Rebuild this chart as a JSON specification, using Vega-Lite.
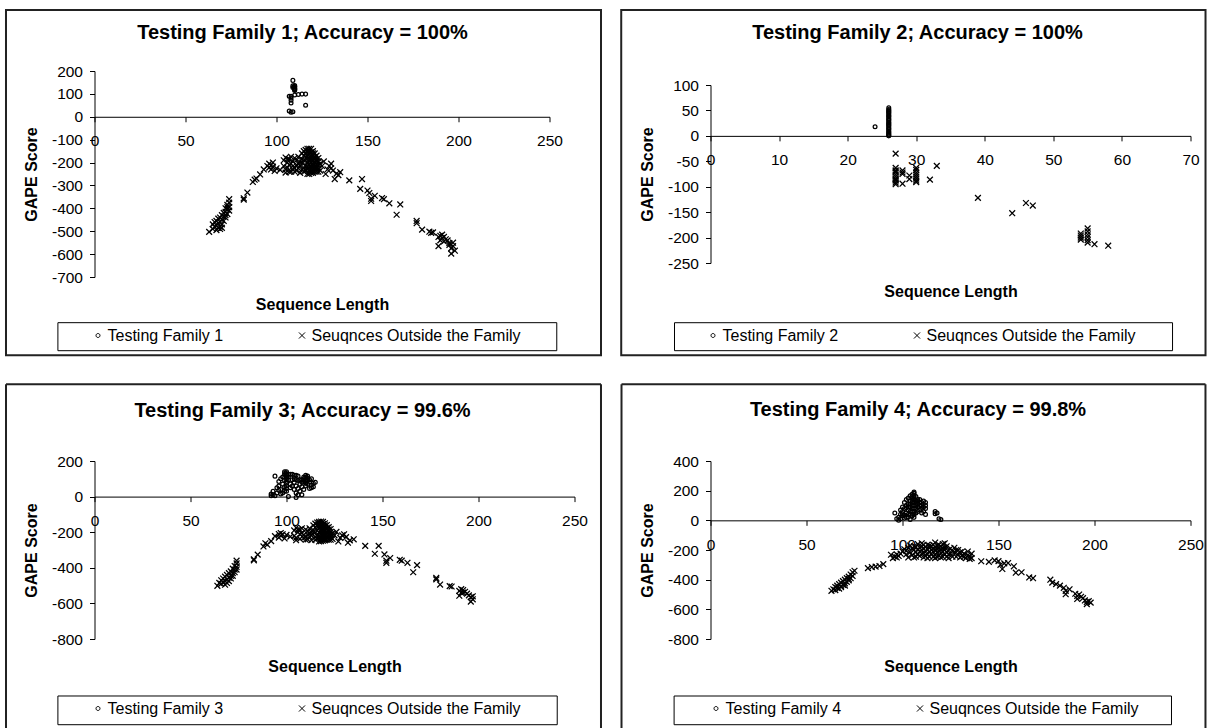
{
"$schema": "https://vega.github.io/schema/vega-lite/v6.json",
"background": "white",
"padding": {"left": 4.5, "top": 8, "right": 0, "bottom": 0},
"config": {
  "font": "Liberation Sans",
  "view": {"stroke": null},
  "axis": {"grid": false, "domainColor": "black", "domainWidth": 1, "tickColor": "black", "tickWidth": 1, "tickSize": 5, "labelColor": "black", "labelFont": "Liberation Sans", "labelFontSize": 15.5, "titleColor": "black", "titleFont": "Liberation Sans", "titleFontSize": 16, "titleFontWeight": "bold", "labelFlush": false, "labelOverlap": false, "tickCount": 30, "labelExpr": "'' + datum.value"},
  "axisX": {"labelPadding": 12, "titleBaseline": "alphabetic"},
  "axisY": {"labelPadding": 7, "titlePadding": 12},
  "title": {"font": "Liberation Sans", "fontSize": 20, "fontWeight": "bold", "color": "black", "frame": "group", "anchor": "middle", "baseline": "alphabetic"},
  "legend": {"labelFont": "Liberation Sans", "labelFontSize": 16, "labelColor": "black", "labelLimit": 500, "symbolSize": 22, "symbolStrokeWidth": 1, "symbolStrokeColor": "black", "labelOffset": 1.5, "columnPadding": 70, "padding": 0, "orient": "none", "direction": "horizontal"}
},
"datasets": {
"d1": [
{"x":109,"y":159,"g":"a"},{"x":110,"y":136,"g":"a"},{"x":110,"y":130,"g":"a"},{"x":110,"y":125,"g":"a"},{"x":110,"y":120,"g":"a"},{"x":110,"y":115,"g":"a"},{"x":109,"y":128,"g":"a"},{"x":107,"y":90,"g":"a"},{"x":108,"y":90,"g":"a"},{"x":112,"y":97,"g":"a"},{"x":114,"y":99,"g":"a"},{"x":116,"y":99,"g":"a"},{"x":108,"y":72,"g":"a"},{"x":108,"y":60,"g":"a"},{"x":116,"y":50,"g":"a"},{"x":107,"y":25,"g":"a"},{"x":108,"y":20,"g":"a"},{"x":109,"y":22,"g":"a"},{"x":110,"y":95,"g":"a"},{"x":108,"y":82,"g":"a"},{"x":110,"y":118,"g":"a"},{"x":110,"y":122,"g":"a"},{"x":110,"y":132,"g":"a"},{"x":109,"y":135,"g":"a"},
{"x":63,"y":-503,"g":"b"},{"x":65,"y":-490,"g":"b"},{"x":65,"y":-470,"g":"b"},{"x":66,"y":-480,"g":"b"},{"x":66,"y":-460,"g":"b"},{"x":67,"y":-495,"g":"b"},{"x":67,"y":-475,"g":"b"},{"x":67,"y":-455,"g":"b"},{"x":68,"y":-485,"g":"b"},{"x":68,"y":-465,"g":"b"},{"x":68,"y":-445,"g":"b"},{"x":69,"y":-480,"g":"b"},{"x":69,"y":-460,"g":"b"},{"x":69,"y":-440,"g":"b"},{"x":70,"y":-470,"g":"b"},{"x":70,"y":-450,"g":"b"},{"x":70,"y":-430,"g":"b"},{"x":71,"y":-455,"g":"b"},{"x":71,"y":-435,"g":"b"},{"x":71,"y":-420,"g":"b"},{"x":72,"y":-440,"g":"b"},{"x":72,"y":-415,"g":"b"},{"x":72,"y":-400,"g":"b"},{"x":73,"y":-425,"g":"b"},{"x":73,"y":-405,"g":"b"},{"x":73,"y":-385,"g":"b"},{"x":74,"y":-410,"g":"b"},{"x":74,"y":-395,"g":"b"},{"x":74,"y":-375,"g":"b"},{"x":74,"y":-360,"g":"b"},{"x":69,"y":-490,"g":"b"},{"x":70,"y":-485,"g":"b"},{"x":72,"y":-430,"g":"b"},{"x":73,"y":-395,"g":"b"},
{"x":82,"y":-356,"g":"b"},{"x":82,"y":-362,"g":"b"},{"x":84,"y":-331,"g":"b"},{"x":87,"y":-285,"g":"b"},{"x":88,"y":-275,"g":"b"},{"x":89,"y":-270,"g":"b"},{"x":91,"y":-252,"g":"b"},{"x":93,"y":-230,"g":"b"},{"x":95,"y":-215,"g":"b"},{"x":96,"y":-205,"g":"b"},{"x":96,"y":-222,"g":"b"},{"x":97,"y":-212,"g":"b"},{"x":97,"y":-230,"g":"b"},{"x":98,"y":-200,"g":"b"},{"x":98,"y":-218,"g":"b"},{"x":99,"y":-237,"g":"b"},{"x":100,"y":-225,"g":"b"},{"x":102,"y":-232,"g":"b"},
{"x":104,"y":-190,"g":"b"},{"x":104,"y":-215,"g":"b"},{"x":105,"y":-178,"g":"b"},{"x":105,"y":-244,"g":"b"},{"x":105,"y":-230,"g":"b"},{"x":106,"y":-200,"g":"b"},{"x":106,"y":-222,"g":"b"},{"x":107,"y":-185,"g":"b"},{"x":107,"y":-240,"g":"b"},{"x":108,"y":-205,"g":"b"},{"x":108,"y":-175,"g":"b"},{"x":109,"y":-215,"g":"b"},{"x":109,"y":-195,"g":"b"},{"x":110,"y":-180,"g":"b"},{"x":110,"y":-225,"g":"b"},{"x":111,"y":-190,"g":"b"},{"x":111,"y":-235,"g":"b"},{"x":112,"y":-205,"g":"b"},{"x":112,"y":-175,"g":"b"},{"x":113,"y":-215,"g":"b"},{"x":113,"y":-245,"g":"b"},{"x":114,"y":-185,"g":"b"},{"x":114,"y":-200,"g":"b"},{"x":115,"y":-170,"g":"b"},{"x":115,"y":-225,"g":"b"},{"x":115,"y":-240,"g":"b"},{"x":116,"y":-160,"g":"b"},{"x":116,"y":-190,"g":"b"},{"x":116,"y":-215,"g":"b"},{"x":117,"y":-150,"g":"b"},{"x":117,"y":-175,"g":"b"},{"x":117,"y":-200,"g":"b"},{"x":117,"y":-230,"g":"b"},{"x":117,"y":-250,"g":"b"},{"x":118,"y":-140,"g":"b"},{"x":118,"y":-165,"g":"b"},{"x":118,"y":-185,"g":"b"},{"x":118,"y":-210,"g":"b"},{"x":118,"y":-235,"g":"b"},{"x":119,"y":-155,"g":"b"},{"x":119,"y":-180,"g":"b"},{"x":119,"y":-200,"g":"b"},{"x":119,"y":-225,"g":"b"},{"x":119,"y":-245,"g":"b"},{"x":120,"y":-160,"g":"b"},{"x":120,"y":-190,"g":"b"},{"x":120,"y":-215,"g":"b"},{"x":120,"y":-235,"g":"b"},{"x":121,"y":-175,"g":"b"},{"x":121,"y":-200,"g":"b"},{"x":121,"y":-225,"g":"b"},{"x":122,"y":-185,"g":"b"},{"x":122,"y":-210,"g":"b"},{"x":122,"y":-240,"g":"b"},{"x":123,"y":-195,"g":"b"},{"x":123,"y":-225,"g":"b"},{"x":124,"y":-205,"g":"b"},{"x":124,"y":-235,"g":"b"},{"x":125,"y":-215,"g":"b"},{"x":126,"y":-195,"g":"b"},{"x":127,"y":-250,"g":"b"},{"x":128,"y":-230,"g":"b"},{"x":129,"y":-215,"g":"b"},{"x":130,"y":-225,"g":"b"},{"x":130,"y":-205,"g":"b"},{"x":131,"y":-235,"g":"b"},{"x":132,"y":-272,"g":"b"},{"x":133,"y":-248,"g":"b"},{"x":134,"y":-255,"g":"b"},{"x":135,"y":-242,"g":"b"},
{"x":114,"y":-160,"g":"b"},{"x":115,"y":-150,"g":"b"},{"x":116,"y":-145,"g":"b"},{"x":116,"y":-235,"g":"b"},{"x":117,"y":-140,"g":"b"},{"x":117,"y":-165,"g":"b"},{"x":117,"y":-215,"g":"b"},{"x":118,"y":-150,"g":"b"},{"x":118,"y":-195,"g":"b"},{"x":118,"y":-250,"g":"b"},{"x":119,"y":-140,"g":"b"},{"x":119,"y":-170,"g":"b"},{"x":119,"y":-190,"g":"b"},{"x":119,"y":-215,"g":"b"},{"x":119,"y":-235,"g":"b"},{"x":120,"y":-150,"g":"b"},{"x":120,"y":-170,"g":"b"},{"x":120,"y":-205,"g":"b"},{"x":120,"y":-245,"g":"b"},{"x":121,"y":-160,"g":"b"},{"x":121,"y":-185,"g":"b"},{"x":121,"y":-215,"g":"b"},{"x":121,"y":-240,"g":"b"},{"x":122,"y":-170,"g":"b"},{"x":122,"y":-195,"g":"b"},{"x":122,"y":-225,"g":"b"},{"x":123,"y":-180,"g":"b"},{"x":123,"y":-210,"g":"b"},{"x":123,"y":-240,"g":"b"},{"x":116,"y":-230,"g":"b"},{"x":115,"y":-190,"g":"b"},{"x":114,"y":-230,"g":"b"},{"x":113,"y":-200,"g":"b"},{"x":112,"y":-225,"g":"b"},{"x":110,"y":-240,"g":"b"},{"x":111,"y":-210,"g":"b"},{"x":109,"y":-230,"g":"b"},{"x":108,"y":-240,"g":"b"},{"x":106,"y":-185,"g":"b"},{"x":107,"y":-210,"g":"b"},
{"x":140,"y":-278,"g":"b"},{"x":147,"y":-272,"g":"b"},{"x":146,"y":-315,"g":"b"},{"x":150,"y":-322,"g":"b"},{"x":151,"y":-333,"g":"b"},{"x":152,"y":-368,"g":"b"},{"x":152,"y":-358,"g":"b"},{"x":154,"y":-345,"g":"b"},{"x":158,"y":-355,"g":"b"},{"x":159,"y":-360,"g":"b"},{"x":162,"y":-378,"g":"b"},{"x":166,"y":-428,"g":"b"},{"x":168,"y":-383,"g":"b"},
{"x":177,"y":-455,"g":"b"},{"x":177,"y":-465,"g":"b"},{"x":180,"y":-493,"g":"b"},{"x":184,"y":-502,"g":"b"},{"x":185,"y":-507,"g":"b"},{"x":186,"y":-505,"g":"b"},{"x":189,"y":-525,"g":"b"},{"x":189,"y":-565,"g":"b"},{"x":190,"y":-520,"g":"b"},{"x":190,"y":-540,"g":"b"},{"x":191,"y":-515,"g":"b"},{"x":191,"y":-530,"g":"b"},{"x":192,"y":-545,"g":"b"},{"x":192,"y":-525,"g":"b"},{"x":193,"y":-535,"g":"b"},{"x":194,"y":-540,"g":"b"},{"x":195,"y":-552,"g":"b"},{"x":195,"y":-560,"g":"b"},{"x":196,"y":-575,"g":"b"},{"x":196,"y":-598,"g":"b"},{"x":197,"y":-565,"g":"b"},{"x":198,"y":-585,"g":"b"},{"x":197,"y":-550,"g":"b"}
],
"d2": [
{"x":24,"y":18,"g":"a"},{"x":26,"y":0,"g":"a"},{"x":26,"y":1,"g":"a"},{"x":26,"y":3,"g":"a"},{"x":26,"y":5,"g":"a"},{"x":26,"y":7,"g":"a"},{"x":26,"y":9,"g":"a"},{"x":26,"y":12,"g":"a"},{"x":26,"y":14,"g":"a"},{"x":26,"y":16,"g":"a"},{"x":26,"y":19,"g":"a"},{"x":26,"y":21,"g":"a"},{"x":26,"y":23,"g":"a"},{"x":26,"y":25,"g":"a"},{"x":26,"y":27,"g":"a"},{"x":26,"y":30,"g":"a"},{"x":26,"y":32,"g":"a"},{"x":26,"y":34,"g":"a"},{"x":26,"y":37,"g":"a"},{"x":26,"y":39,"g":"a"},{"x":26,"y":41,"g":"a"},{"x":26,"y":44,"g":"a"},{"x":26,"y":46,"g":"a"},{"x":26,"y":48,"g":"a"},{"x":26,"y":50,"g":"a"},{"x":26,"y":52,"g":"a"},{"x":26,"y":55,"g":"a"},
{"x":27,"y":-35,"g":"b"},{"x":27,"y":-63,"g":"b"},{"x":27,"y":-68,"g":"b"},{"x":27,"y":-72,"g":"b"},{"x":27,"y":-76,"g":"b"},{"x":27,"y":-80,"g":"b"},{"x":27,"y":-84,"g":"b"},{"x":27,"y":-88,"g":"b"},{"x":27,"y":-92,"g":"b"},{"x":27,"y":-95,"g":"b"},{"x":27,"y":-70,"g":"b"},{"x":27,"y":-86,"g":"b"},{"x":28,"y":-68,"g":"b"},{"x":28,"y":-72,"g":"b"},{"x":28,"y":-75,"g":"b"},{"x":28,"y":-94,"g":"b"},{"x":29,"y":-78,"g":"b"},{"x":29,"y":-85,"g":"b"},{"x":30,"y":-63,"g":"b"},{"x":30,"y":-67,"g":"b"},{"x":30,"y":-72,"g":"b"},{"x":30,"y":-76,"g":"b"},{"x":30,"y":-80,"g":"b"},{"x":30,"y":-84,"g":"b"},{"x":30,"y":-88,"g":"b"},{"x":30,"y":-91,"g":"b"},{"x":32,"y":-86,"g":"b"},{"x":33,"y":-59,"g":"b"},{"x":39,"y":-122,"g":"b"},{"x":44,"y":-152,"g":"b"},{"x":46,"y":-132,"g":"b"},{"x":47,"y":-137,"g":"b"},{"x":54,"y":-192,"g":"b"},{"x":54,"y":-196,"g":"b"},{"x":54,"y":-200,"g":"b"},{"x":54,"y":-204,"g":"b"},{"x":55,"y":-182,"g":"b"},{"x":55,"y":-188,"g":"b"},{"x":55,"y":-194,"g":"b"},{"x":55,"y":-199,"g":"b"},{"x":55,"y":-205,"g":"b"},{"x":55,"y":-210,"g":"b"},{"x":56,"y":-213,"g":"b"},{"x":58,"y":-216,"g":"b"}
],
"d3": [
{"x":92,"y":5,"g":"a"},{"x":92,"y":15,"g":"a"},{"x":93,"y":30,"g":"a"},{"x":94,"y":115,"g":"a"},{"x":95,"y":50,"g":"a"},{"x":95,"y":20,"g":"a"},{"x":96,"y":60,"g":"a"},{"x":96,"y":85,"g":"a"},{"x":97,"y":40,"g":"a"},{"x":97,"y":100,"g":"a"},{"x":98,"y":70,"g":"a"},{"x":98,"y":110,"g":"a"},{"x":99,"y":130,"g":"a"},{"x":99,"y":90,"g":"a"},{"x":99,"y":55,"g":"a"},{"x":100,"y":140,"g":"a"},{"x":100,"y":120,"g":"a"},{"x":100,"y":100,"g":"a"},{"x":100,"y":75,"g":"a"},{"x":100,"y":60,"g":"a"},{"x":100,"y":30,"g":"a"},{"x":101,"y":0,"g":"a"},{"x":101,"y":110,"g":"a"},{"x":102,"y":125,"g":"a"},{"x":103,"y":125,"g":"a"},{"x":104,"y":120,"g":"a"},{"x":104,"y":40,"g":"a"},{"x":104,"y":80,"g":"a"},{"x":105,"y":20,"g":"a"},{"x":105,"y":-5,"g":"a"},{"x":105,"y":60,"g":"a"},{"x":106,"y":90,"g":"a"},{"x":106,"y":45,"g":"a"},{"x":107,"y":30,"g":"a"},{"x":107,"y":70,"g":"a"},{"x":108,"y":80,"g":"a"},{"x":108,"y":55,"g":"a"},{"x":109,"y":100,"g":"a"},{"x":109,"y":40,"g":"a"},{"x":110,"y":110,"g":"a"},{"x":110,"y":85,"g":"a"},{"x":110,"y":60,"g":"a"},{"x":111,"y":95,"g":"a"},{"x":111,"y":70,"g":"a"},{"x":112,"y":45,"g":"a"},{"x":112,"y":80,"g":"a"},{"x":113,"y":50,"g":"a"},{"x":113,"y":65,"g":"a"},{"x":114,"y":75,"g":"a"},{"x":114,"y":55,"g":"a"},{"x":103,"y":95,"g":"a"},{"x":98,"y":20,"g":"a"},{"x":102,"y":70,"g":"a"},{"x":108,"y":10,"g":"a"},{"x":106,"y":10,"g":"a"},{"x":115,"y":80,"g":"a"},
{"x":99,"y":120,"g":"a"},{"x":100,"y":130,"g":"a"},{"x":100,"y":110,"g":"a"},{"x":100,"y":85,"g":"a"},{"x":99,"y":140,"g":"a"},{"x":101,"y":125,"g":"a"},{"x":101,"y":95,"g":"a"},{"x":109,"y":110,"g":"a"},{"x":110,"y":95,"g":"a"},{"x":110,"y":120,"g":"a"},{"x":111,"y":105,"g":"a"},{"x":111,"y":115,"g":"a"},{"x":109,"y":85,"g":"a"},{"x":108,"y":95,"g":"a"},{"x":110,"y":75,"g":"a"},{"x":112,"y":95,"g":"a"},{"x":113,"y":100,"g":"a"},{"x":107,"y":95,"g":"a"},{"x":104,"y":100,"g":"a"},{"x":105,"y":95,"g":"a"},{"x":106,"y":115,"g":"a"},{"x":105,"y":120,"g":"a"},{"x":100,"y":45,"g":"a"},{"x":102,"y":50,"g":"a"},{"x":103,"y":60,"g":"a"},{"x":97,"y":15,"g":"a"},{"x":96,"y":35,"g":"a"},{"x":94,"y":5,"g":"a"},{"x":93,"y":10,"g":"a"},{"x":99,"y":30,"g":"a"},
{"x":64,"y":-501,"g":"b"},{"x":65,"y":-485,"g":"b"},{"x":66,"y":-470,"g":"b"},{"x":66,"y":-490,"g":"b"},{"x":67,"y":-460,"g":"b"},{"x":67,"y":-480,"g":"b"},{"x":68,"y":-450,"g":"b"},{"x":68,"y":-475,"g":"b"},{"x":68,"y":-495,"g":"b"},{"x":69,"y":-440,"g":"b"},{"x":69,"y":-465,"g":"b"},{"x":69,"y":-485,"g":"b"},{"x":70,"y":-430,"g":"b"},{"x":70,"y":-455,"g":"b"},{"x":70,"y":-475,"g":"b"},{"x":71,"y":-420,"g":"b"},{"x":71,"y":-445,"g":"b"},{"x":71,"y":-460,"g":"b"},{"x":72,"y":-405,"g":"b"},{"x":72,"y":-430,"g":"b"},{"x":72,"y":-445,"g":"b"},{"x":73,"y":-390,"g":"b"},{"x":73,"y":-410,"g":"b"},{"x":73,"y":-425,"g":"b"},{"x":74,"y":-375,"g":"b"},{"x":74,"y":-395,"g":"b"},{"x":74,"y":-360,"g":"b"},{"x":74,"y":-410,"g":"b"},
{"x":83,"y":-352,"g":"b"},{"x":83,"y":-358,"g":"b"},{"x":85,"y":-326,"g":"b"},{"x":88,"y":-280,"g":"b"},{"x":89,"y":-262,"g":"b"},{"x":90,"y":-270,"g":"b"},{"x":92,"y":-250,"g":"b"},{"x":94,"y":-222,"g":"b"},{"x":96,"y":-210,"g":"b"},{"x":96,"y":-230,"g":"b"},{"x":97,"y":-205,"g":"b"},{"x":97,"y":-220,"g":"b"},{"x":98,"y":-212,"g":"b"},{"x":99,"y":-235,"g":"b"},{"x":100,"y":-215,"g":"b"},{"x":102,"y":-225,"g":"b"},
{"x":104,"y":-190,"g":"b"},{"x":104,"y":-220,"g":"b"},{"x":105,"y":-175,"g":"b"},{"x":105,"y":-245,"g":"b"},{"x":105,"y":-232,"g":"b"},{"x":106,"y":-200,"g":"b"},{"x":107,"y":-185,"g":"b"},{"x":107,"y":-238,"g":"b"},{"x":108,"y":-205,"g":"b"},{"x":108,"y":-178,"g":"b"},{"x":109,"y":-215,"g":"b"},{"x":110,"y":-185,"g":"b"},{"x":110,"y":-228,"g":"b"},{"x":111,"y":-195,"g":"b"},{"x":111,"y":-240,"g":"b"},{"x":112,"y":-208,"g":"b"},{"x":112,"y":-178,"g":"b"},{"x":113,"y":-218,"g":"b"},{"x":113,"y":-245,"g":"b"},{"x":114,"y":-188,"g":"b"},{"x":114,"y":-200,"g":"b"},{"x":115,"y":-172,"g":"b"},{"x":115,"y":-228,"g":"b"},{"x":115,"y":-242,"g":"b"},{"x":116,"y":-160,"g":"b"},{"x":116,"y":-192,"g":"b"},{"x":116,"y":-215,"g":"b"},{"x":117,"y":-150,"g":"b"},{"x":117,"y":-178,"g":"b"},{"x":117,"y":-202,"g":"b"},{"x":117,"y":-232,"g":"b"},{"x":117,"y":-252,"g":"b"},{"x":118,"y":-140,"g":"b"},{"x":118,"y":-165,"g":"b"},{"x":118,"y":-188,"g":"b"},{"x":118,"y":-212,"g":"b"},{"x":118,"y":-238,"g":"b"},{"x":119,"y":-155,"g":"b"},{"x":119,"y":-182,"g":"b"},{"x":119,"y":-200,"g":"b"},{"x":119,"y":-228,"g":"b"},{"x":119,"y":-248,"g":"b"},{"x":120,"y":-162,"g":"b"},{"x":120,"y":-192,"g":"b"},{"x":120,"y":-218,"g":"b"},{"x":120,"y":-238,"g":"b"},{"x":121,"y":-175,"g":"b"},{"x":121,"y":-202,"g":"b"},{"x":121,"y":-226,"g":"b"},{"x":122,"y":-185,"g":"b"},{"x":122,"y":-212,"g":"b"},{"x":122,"y":-242,"g":"b"},{"x":123,"y":-198,"g":"b"},{"x":123,"y":-228,"g":"b"},{"x":124,"y":-208,"g":"b"},{"x":124,"y":-238,"g":"b"},{"x":125,"y":-218,"g":"b"},{"x":126,"y":-198,"g":"b"},{"x":127,"y":-252,"g":"b"},{"x":128,"y":-232,"g":"b"},{"x":129,"y":-218,"g":"b"},{"x":130,"y":-212,"g":"b"},{"x":131,"y":-228,"g":"b"},{"x":132,"y":-259,"g":"b"},{"x":133,"y":-246,"g":"b"},{"x":135,"y":-240,"g":"b"},
{"x":114,"y":-162,"g":"b"},{"x":115,"y":-152,"g":"b"},{"x":116,"y":-146,"g":"b"},{"x":116,"y":-236,"g":"b"},{"x":117,"y":-142,"g":"b"},{"x":117,"y":-166,"g":"b"},{"x":117,"y":-218,"g":"b"},{"x":118,"y":-152,"g":"b"},{"x":118,"y":-198,"g":"b"},{"x":118,"y":-250,"g":"b"},{"x":119,"y":-142,"g":"b"},{"x":119,"y":-170,"g":"b"},{"x":119,"y":-192,"g":"b"},{"x":119,"y":-215,"g":"b"},{"x":119,"y":-236,"g":"b"},{"x":120,"y":-150,"g":"b"},{"x":120,"y":-172,"g":"b"},{"x":120,"y":-206,"g":"b"},{"x":120,"y":-246,"g":"b"},{"x":121,"y":-160,"g":"b"},{"x":121,"y":-186,"g":"b"},{"x":121,"y":-214,"g":"b"},{"x":121,"y":-242,"g":"b"},{"x":122,"y":-172,"g":"b"},{"x":122,"y":-196,"g":"b"},{"x":122,"y":-226,"g":"b"},{"x":123,"y":-182,"g":"b"},{"x":123,"y":-212,"g":"b"},{"x":123,"y":-242,"g":"b"},{"x":113,"y":-202,"g":"b"},{"x":112,"y":-226,"g":"b"},{"x":110,"y":-242,"g":"b"},{"x":111,"y":-212,"g":"b"},{"x":109,"y":-232,"g":"b"},{"x":106,"y":-186,"g":"b"},{"x":107,"y":-212,"g":"b"},
{"x":141,"y":-277,"g":"b"},{"x":148,"y":-277,"g":"b"},{"x":146,"y":-321,"g":"b"},{"x":151,"y":-325,"g":"b"},{"x":152,"y":-372,"g":"b"},{"x":152,"y":-360,"g":"b"},{"x":154,"y":-345,"g":"b"},{"x":159,"y":-355,"g":"b"},{"x":160,"y":-360,"g":"b"},{"x":163,"y":-372,"g":"b"},{"x":166,"y":-425,"g":"b"},{"x":168,"y":-385,"g":"b"},
{"x":178,"y":-457,"g":"b"},{"x":178,"y":-465,"g":"b"},{"x":180,"y":-494,"g":"b"},{"x":185,"y":-503,"g":"b"},{"x":186,"y":-505,"g":"b"},{"x":190,"y":-530,"g":"b"},{"x":190,"y":-557,"g":"b"},{"x":191,"y":-520,"g":"b"},{"x":191,"y":-540,"g":"b"},{"x":192,"y":-525,"g":"b"},{"x":192,"y":-540,"g":"b"},{"x":193,"y":-535,"g":"b"},{"x":194,"y":-545,"g":"b"},{"x":195,"y":-555,"g":"b"},{"x":196,"y":-565,"g":"b"},{"x":196,"y":-590,"g":"b"},{"x":197,"y":-577,"g":"b"},{"x":197,"y":-560,"g":"b"}
],
"d4": [
{"x":96,"y":50,"g":"a"},{"x":97,"y":10,"g":"a"},{"x":98,"y":0,"g":"a"},{"x":98,"y":20,"g":"a"},{"x":99,"y":40,"g":"a"},{"x":100,"y":60,"g":"a"},{"x":100,"y":30,"g":"a"},{"x":101,"y":80,"g":"a"},{"x":101,"y":15,"g":"a"},{"x":102,"y":50,"g":"a"},{"x":102,"y":100,"g":"a"},{"x":103,"y":70,"g":"a"},{"x":103,"y":110,"g":"a"},{"x":104,"y":90,"g":"a"},{"x":104,"y":130,"g":"a"},{"x":104,"y":40,"g":"a"},{"x":105,"y":150,"g":"a"},{"x":105,"y":120,"g":"a"},{"x":105,"y":100,"g":"a"},{"x":105,"y":80,"g":"a"},{"x":105,"y":60,"g":"a"},{"x":106,"y":182,"g":"a"},{"x":106,"y":170,"g":"a"},{"x":106,"y":160,"g":"a"},{"x":106,"y":140,"g":"a"},{"x":106,"y":120,"g":"a"},{"x":106,"y":100,"g":"a"},{"x":106,"y":80,"g":"a"},{"x":106,"y":60,"g":"a"},{"x":107,"y":130,"g":"a"},{"x":107,"y":100,"g":"a"},{"x":107,"y":50,"g":"a"},{"x":108,"y":110,"g":"a"},{"x":108,"y":90,"g":"a"},{"x":109,"y":140,"g":"a"},{"x":109,"y":70,"g":"a"},{"x":110,"y":120,"g":"a"},{"x":110,"y":100,"g":"a"},{"x":110,"y":50,"g":"a"},{"x":111,"y":90,"g":"a"},{"x":112,"y":120,"g":"a"},{"x":112,"y":80,"g":"a"},{"x":112,"y":40,"g":"a"},{"x":117,"y":60,"g":"a"},{"x":117,"y":45,"g":"a"},{"x":119,"y":10,"g":"a"},{"x":103,"y":20,"g":"a"},{"x":104,"y":5,"g":"a"},
{"x":99,"y":10,"g":"a"},{"x":100,"y":45,"g":"a"},{"x":101,"y":35,"g":"a"},{"x":101,"y":120,"g":"a"},{"x":102,"y":85,"g":"a"},{"x":102,"y":140,"g":"a"},{"x":103,"y":90,"g":"a"},{"x":103,"y":150,"g":"a"},{"x":104,"y":60,"g":"a"},{"x":104,"y":165,"g":"a"},{"x":105,"y":30,"g":"a"},{"x":105,"y":175,"g":"a"},{"x":105,"y":135,"g":"a"},{"x":106,"y":190,"g":"a"},{"x":106,"y":40,"g":"a"},{"x":106,"y":20,"g":"a"},{"x":107,"y":160,"g":"a"},{"x":107,"y":80,"g":"a"},{"x":107,"y":115,"g":"a"},{"x":108,"y":140,"g":"a"},{"x":108,"y":60,"g":"a"},{"x":108,"y":130,"g":"a"},{"x":109,"y":100,"g":"a"},{"x":109,"y":120,"g":"a"},{"x":110,"y":80,"g":"a"},{"x":111,"y":60,"g":"a"},{"x":111,"y":130,"g":"a"},{"x":112,"y":100,"g":"a"},{"x":118,"y":50,"g":"a"},{"x":120,"y":5,"g":"a"},{"x":104,"y":110,"g":"a"},{"x":103,"y":40,"g":"a"},{"x":102,"y":20,"g":"a"},{"x":100,"y":90,"g":"a"},{"x":99,"y":70,"g":"a"},
{"x":63,"y":-475,"g":"b"},{"x":64,"y":-465,"g":"b"},{"x":65,"y":-470,"g":"b"},{"x":65,"y":-450,"g":"b"},{"x":66,"y":-455,"g":"b"},{"x":66,"y":-440,"g":"b"},{"x":67,"y":-460,"g":"b"},{"x":67,"y":-430,"g":"b"},{"x":68,"y":-445,"g":"b"},{"x":68,"y":-420,"g":"b"},{"x":69,"y":-435,"g":"b"},{"x":69,"y":-410,"g":"b"},{"x":70,"y":-425,"g":"b"},{"x":70,"y":-400,"g":"b"},{"x":71,"y":-415,"g":"b"},{"x":71,"y":-390,"g":"b"},{"x":72,"y":-405,"g":"b"},{"x":72,"y":-380,"g":"b"},{"x":73,"y":-390,"g":"b"},{"x":73,"y":-365,"g":"b"},{"x":74,"y":-375,"g":"b"},{"x":74,"y":-350,"g":"b"},{"x":75,"y":-340,"g":"b"},{"x":68,"y":-450,"g":"b"},{"x":70,"y":-440,"g":"b"},{"x":72,"y":-395,"g":"b"},
{"x":82,"y":-322,"g":"b"},{"x":84,"y":-315,"g":"b"},{"x":86,"y":-312,"g":"b"},{"x":88,"y":-308,"g":"b"},{"x":90,"y":-295,"g":"b"},{"x":94,"y":-232,"g":"b"},{"x":95,"y":-255,"g":"b"},{"x":96,"y":-245,"g":"b"},{"x":97,"y":-250,"g":"b"},{"x":97,"y":-230,"g":"b"},{"x":98,"y":-240,"g":"b"},{"x":99,"y":-225,"g":"b"},{"x":100,"y":-210,"g":"b"},{"x":101,"y":-195,"g":"b"},{"x":102,"y":-205,"g":"b"},{"x":103,"y":-185,"g":"b"},{"x":104,"y":-215,"g":"b"},{"x":105,"y":-190,"g":"b"},{"x":106,"y":-200,"g":"b"},{"x":107,"y":-180,"g":"b"},{"x":107,"y":-215,"g":"b"},{"x":108,"y":-195,"g":"b"},{"x":109,"y":-185,"g":"b"},{"x":109,"y":-210,"g":"b"},{"x":110,"y":-200,"g":"b"},{"x":110,"y":-175,"g":"b"},{"x":110,"y":-155,"g":"b"},{"x":111,"y":-190,"g":"b"},{"x":111,"y":-220,"g":"b"},{"x":112,"y":-180,"g":"b"},{"x":112,"y":-205,"g":"b"},{"x":113,"y":-195,"g":"b"},{"x":113,"y":-230,"g":"b"},{"x":114,"y":-170,"g":"b"},{"x":114,"y":-185,"g":"b"},{"x":114,"y":-215,"g":"b"},{"x":115,"y":-200,"g":"b"},{"x":115,"y":-225,"g":"b"},{"x":116,"y":-165,"g":"b"},{"x":116,"y":-190,"g":"b"},{"x":116,"y":-210,"g":"b"},{"x":117,"y":-150,"g":"b"},{"x":117,"y":-180,"g":"b"},{"x":117,"y":-200,"g":"b"},{"x":117,"y":-235,"g":"b"},{"x":118,"y":-170,"g":"b"},{"x":118,"y":-195,"g":"b"},{"x":118,"y":-215,"g":"b"},{"x":119,"y":-185,"g":"b"},{"x":119,"y":-205,"g":"b"},{"x":119,"y":-240,"g":"b"},{"x":120,"y":-175,"g":"b"},{"x":120,"y":-200,"g":"b"},{"x":120,"y":-220,"g":"b"},{"x":121,"y":-190,"g":"b"},{"x":121,"y":-210,"g":"b"},{"x":122,"y":-155,"g":"b"},{"x":122,"y":-200,"g":"b"},{"x":122,"y":-230,"g":"b"},{"x":123,"y":-215,"g":"b"},{"x":123,"y":-245,"g":"b"},{"x":124,"y":-200,"g":"b"},{"x":125,"y":-225,"g":"b"},{"x":126,"y":-210,"g":"b"},{"x":127,"y":-215,"g":"b"},{"x":128,"y":-200,"g":"b"},{"x":129,"y":-230,"g":"b"},{"x":130,"y":-215,"g":"b"},{"x":131,"y":-240,"g":"b"},{"x":132,"y":-225,"g":"b"},{"x":133,"y":-255,"g":"b"},{"x":134,"y":-235,"g":"b"},{"x":135,"y":-260,"g":"b"},{"x":136,"y":-225,"g":"b"},
{"x":102,"y":-230,"g":"b"},{"x":103,"y":-250,"g":"b"},{"x":104,"y":-170,"g":"b"},{"x":105,"y":-235,"g":"b"},{"x":106,"y":-175,"g":"b"},{"x":106,"y":-250,"g":"b"},{"x":107,"y":-245,"g":"b"},{"x":108,"y":-160,"g":"b"},{"x":108,"y":-230,"g":"b"},{"x":109,"y":-240,"g":"b"},{"x":110,"y":-225,"g":"b"},{"x":111,"y":-165,"g":"b"},{"x":111,"y":-250,"g":"b"},{"x":112,"y":-240,"g":"b"},{"x":113,"y":-165,"g":"b"},{"x":113,"y":-255,"g":"b"},{"x":114,"y":-245,"g":"b"},{"x":115,"y":-175,"g":"b"},{"x":116,"y":-245,"g":"b"},{"x":117,"y":-255,"g":"b"},{"x":118,"y":-245,"g":"b"},{"x":119,"y":-165,"g":"b"},{"x":120,"y":-250,"g":"b"},{"x":121,"y":-160,"g":"b"},{"x":121,"y":-245,"g":"b"},{"x":122,"y":-185,"g":"b"},{"x":123,"y":-175,"g":"b"},{"x":124,"y":-230,"g":"b"},{"x":124,"y":-255,"g":"b"},{"x":125,"y":-190,"g":"b"},{"x":126,"y":-245,"g":"b"},{"x":127,"y":-185,"g":"b"},{"x":128,"y":-245,"g":"b"},{"x":130,"y":-250,"g":"b"},{"x":132,"y":-245,"g":"b"},{"x":134,"y":-210,"g":"b"},{"x":135,"y":-245,"g":"b"},{"x":136,"y":-255,"g":"b"},{"x":129,"y":-200,"g":"b"},{"x":131,"y":-210,"g":"b"},
{"x":141,"y":-276,"g":"b"},{"x":145,"y":-280,"g":"b"},{"x":148,"y":-270,"g":"b"},{"x":150,"y":-275,"g":"b"},{"x":151,"y":-300,"g":"b"},{"x":152,"y":-328,"g":"b"},{"x":153,"y":-290,"g":"b"},{"x":155,"y":-288,"g":"b"},{"x":158,"y":-310,"g":"b"},{"x":159,"y":-353,"g":"b"},{"x":162,"y":-350,"g":"b"},{"x":166,"y":-385,"g":"b"},{"x":168,"y":-390,"g":"b"},
{"x":177,"y":-400,"g":"b"},{"x":178,"y":-420,"g":"b"},{"x":180,"y":-430,"g":"b"},{"x":182,"y":-440,"g":"b"},{"x":184,"y":-455,"g":"b"},{"x":185,"y":-475,"g":"b"},{"x":185,"y":-498,"g":"b"},{"x":187,"y":-465,"g":"b"},{"x":190,"y":-495,"g":"b"},{"x":191,"y":-510,"g":"b"},{"x":191,"y":-530,"g":"b"},{"x":192,"y":-500,"g":"b"},{"x":193,"y":-515,"g":"b"},{"x":194,"y":-525,"g":"b"},{"x":195,"y":-540,"g":"b"},{"x":196,"y":-550,"g":"b"},{"x":196,"y":-565,"g":"b"},{"x":197,"y":-545,"g":"b"},{"x":198,"y":-555,"g":"b"}
]
},
"columns": 2,
"spacing": {"row": 184, "column": 136},
"bounds": "flush",
"align": "each",
"center": {"row": true, "column": false},
"resolve": {"scale": {"shape": "independent"}, "legend": {"shape": "independent"}},
"concat": [
{
 "width": 455, "height": 206,
 "title": {"text": "Testing Family 1; Accuracy = 100%", "dx": -19.5, "offset": -34.3},
 "layer": [
  {"data": {"values": [{}]}, "mark": {"type": "rect", "filled": false, "color": "#222", "strokeWidth": 2},
   "encoding": {"x": {"datum": -48.63, "type": "quantitative", "scale": {"domain": [0, 250], "nice": false, "zero": false}}, "x2": {"datum": 278.3},
                "y": {"datum": 466.5, "type": "quantitative", "scale": {"domain": [-700, 200], "nice": false, "zero": false}}, "y2": {"datum": -1042.1}}},
  {"data": {"values": [{}]}, "mark": {"type": "rect", "filled": false, "color": "black", "strokeWidth": 1},
   "encoding": {"x": {"datum": -20.11, "type": "quantitative", "scale": {"domain": [0, 250], "nice": false, "zero": false}}, "x2": {"datum": 254.0},
                "y": {"datum": -899.6, "type": "quantitative", "scale": {"domain": [-700, 200], "nice": false, "zero": false}}, "y2": {"datum": -1022.0}}},
  {"data": {"name": "d1"}, "mark": {"type": "point", "filled": false, "color": "black", "strokeWidth": 1.25, "opacity": 1, "size": 20},
   "encoding": {
    "x": {"field": "x", "type": "quantitative", "scale": {"domain": [0, 250], "nice": false, "zero": false}, "axis": {"values": [0, 50, 100, 150, 200, 250], "title": "Sequence Length", "offset": -160.22, "titleY": 193.2}},
    "y": {"field": "y", "type": "quantitative", "scale": {"domain": [-700, 200], "nice": false, "zero": false}, "axis": {"values": [-700, -600, -500, -400, -300, -200, -100, 0, 100, 200], "tickCount": 30, "title": "GAPE Score"}},
    "shape": {"field": "g", "type": "nominal", "scale": {"domain": ["a", "b"], "range": ["M0.85,0A0.85,0.85,0,1,1,-0.85,0A0.85,0.85,0,1,1,0.85,0Z", "M-1.3,-1.3L1.3,1.3M1.3,-1.3L-1.3,1.3"]}, "legend": {"title": null, "labelExpr": "datum.label == 'a' ? 'Testing Family 1' : 'Seuqnces Outside the Family'", "legendX": -4.5, "legendY": 256.5}}
   }}
 ]
},
{
 "width": 480, "height": 178,
 "title": {"text": "Testing Family 2; Accuracy = 100%", "dx": -33, "offset": -34.5},
 "layer": [
  {"data": {"values": [{}]}, "mark": {"type": "rect", "filled": false, "color": "#222", "strokeWidth": 2},
   "encoding": {"x": {"datum": -13.02, "type": "quantitative", "scale": {"domain": [0, 70], "nice": false, "zero": false}}, "x2": {"datum": 72.19},
                "y": {"datum": 247.5, "type": "quantitative", "scale": {"domain": [-250, 100], "nice": false, "zero": false}}, "y2": {"datum": -431.5}}},
  {"data": {"values": [{}]}, "mark": {"type": "rect", "filled": false, "color": "black", "strokeWidth": 1},
   "encoding": {"x": {"datum": -5.25, "type": "quantitative", "scale": {"domain": [0, 70], "nice": false, "zero": false}}, "x2": {"datum": 67.38},
                "y": {"datum": -367.4, "type": "quantitative", "scale": {"domain": [-250, 100], "nice": false, "zero": false}}, "y2": {"datum": -422.4}}},
  {"data": {"name": "d2"}, "mark": {"type": "point", "filled": false, "color": "black", "strokeWidth": 1.25, "opacity": 1, "size": 20},
   "encoding": {
    "x": {"field": "x", "type": "quantitative", "scale": {"domain": [0, 70], "nice": false, "zero": false}, "axis": {"values": [0, 10, 20, 30, 40, 50, 60, 70], "title": "Sequence Length", "offset": -127.14, "titleY": 161.1}},
    "y": {"field": "y", "type": "quantitative", "scale": {"domain": [-250, 100], "nice": false, "zero": false}, "axis": {"values": [-250, -200, -150, -100, -50, 0, 50, 100], "tickCount": 30, "title": "GAPE Score"}},
    "shape": {"field": "g", "type": "nominal", "scale": {"domain": ["a", "b"], "range": ["M0.85,0A0.85,0.85,0,1,1,-0.85,0A0.85,0.85,0,1,1,0.85,0Z", "M-1.3,-1.3L1.3,1.3M1.3,-1.3L-1.3,1.3"]}, "legend": {"title": null, "labelExpr": "datum.label == 'a' ? 'Testing Family 2' : 'Seuqnces Outside the Family'", "legendX": -5.5, "legendY": 242.5}}
   }}
 ]
},
{
 "width": 480, "height": 178,
 "title": {"text": "Testing Family 3; Accuracy = 99.6%", "dx": -32, "offset": -37.4},
 "layer": [
  {"data": {"values": [{}]}, "mark": {"type": "rule", "color": "#222", "strokeWidth": 2},
   "encoding": {"x": {"datum": -46.09, "type": "quantitative", "scale": {"domain": [0, 250], "nice": false, "zero": false}},
                "y": {"datum": 630.9, "type": "quantitative", "scale": {"domain": [-800, 200], "nice": false, "zero": false}}, "y2": {"datum": -1300}}},
  {"data": {"values": [{}]}, "mark": {"type": "rule", "color": "#222", "strokeWidth": 2},
   "encoding": {"x": {"datum": 263.8, "type": "quantitative", "scale": {"domain": [0, 250], "nice": false, "zero": false}},
                "y": {"datum": 630.9, "type": "quantitative", "scale": {"domain": [-800, 200], "nice": false, "zero": false}}, "y2": {"datum": -1300}}},
  {"data": {"values": [{}]}, "mark": {"type": "rule", "color": "#222", "strokeWidth": 2},
   "encoding": {"x": {"datum": -46.09, "type": "quantitative", "scale": {"domain": [0, 250], "nice": false, "zero": false}}, "x2": {"datum": 263.8},
                "y": {"datum": 630.9, "type": "quantitative", "scale": {"domain": [-800, 200], "nice": false, "zero": false}}}},
  {"data": {"values": [{}]}, "mark": {"type": "rect", "filled": false, "color": "black", "strokeWidth": 1},
   "encoding": {"x": {"datum": -19.06, "type": "quantitative", "scale": {"domain": [0, 250], "nice": false, "zero": false}}, "x2": {"datum": 241.0},
                "y": {"datum": -1120.2, "type": "quantitative", "scale": {"domain": [-800, 200], "nice": false, "zero": false}}, "y2": {"datum": -1281.5}}},
  {"data": {"name": "d3"}, "mark": {"type": "point", "filled": false, "color": "black", "strokeWidth": 1.25, "opacity": 1, "size": 20},
   "encoding": {
    "x": {"field": "x", "type": "quantitative", "scale": {"domain": [0, 250], "nice": false, "zero": false}, "axis": {"values": [0, 50, 100, 150, 200, 250], "title": "Sequence Length", "offset": -142.4, "titleY": 174.4}},
    "y": {"field": "y", "type": "quantitative", "scale": {"domain": [-800, 200], "nice": false, "zero": false}, "axis": {"values": [-800, -600, -400, -200, 0, 200], "tickCount": 30, "title": "GAPE Score"}},
    "shape": {"field": "g", "type": "nominal", "scale": {"domain": ["a", "b"], "range": ["M0.85,0A0.85,0.85,0,1,1,-0.85,0A0.85,0.85,0,1,1,0.85,0Z", "M-1.3,-1.3L1.3,1.3M1.3,-1.3L-1.3,1.3"]}, "legend": {"title": null, "labelExpr": "datum.label == 'a' ? 'Testing Family 3' : 'Seuqnces Outside the Family'", "legendX": -4.5, "legendY": 239.5}}
   }}
 ]
},
{
 "width": 480, "height": 178,
 "title": {"text": "Testing Family 4; Accuracy = 99.8%", "dx": -32.5, "offset": -36.4},
 "layer": [
  {"data": {"values": [{}]}, "mark": {"type": "rule", "color": "#222", "strokeWidth": 2},
   "encoding": {"x": {"datum": -46.35, "type": "quantitative", "scale": {"domain": [0, 250], "nice": false, "zero": false}},
                "y": {"datum": 917.1, "type": "quantitative", "scale": {"domain": [-800, 400], "nice": false, "zero": false}}, "y2": {"datum": -1400}}},
  {"data": {"values": [{}]}, "mark": {"type": "rule", "color": "#222", "strokeWidth": 2},
   "encoding": {"x": {"datum": 257.8, "type": "quantitative", "scale": {"domain": [0, 250], "nice": false, "zero": false}},
                "y": {"datum": 917.1, "type": "quantitative", "scale": {"domain": [-800, 400], "nice": false, "zero": false}}, "y2": {"datum": -1400}}},
  {"data": {"values": [{}]}, "mark": {"type": "rule", "color": "#222", "strokeWidth": 2},
   "encoding": {"x": {"datum": -46.35, "type": "quantitative", "scale": {"domain": [0, 250], "nice": false, "zero": false}}, "x2": {"datum": 257.8},
                "y": {"datum": 917.1, "type": "quantitative", "scale": {"domain": [-800, 400], "nice": false, "zero": false}}}},
  {"data": {"values": [{}]}, "mark": {"type": "rect", "filled": false, "color": "black", "strokeWidth": 1},
   "encoding": {"x": {"datum": -18.96, "type": "quantitative", "scale": {"domain": [0, 250], "nice": false, "zero": false}}, "x2": {"datum": 240.1},
                "y": {"datum": -1184.3, "type": "quantitative", "scale": {"domain": [-800, 400], "nice": false, "zero": false}}, "y2": {"datum": -1377.8}}},
  {"data": {"name": "d4"}, "mark": {"type": "point", "filled": false, "color": "black", "strokeWidth": 1.25, "opacity": 1, "size": 20},
   "encoding": {
    "x": {"field": "x", "type": "quantitative", "scale": {"domain": [0, 250], "nice": false, "zero": false}, "axis": {"values": [0, 50, 100, 150, 200, 250], "title": "Sequence Length", "offset": -118.67, "titleY": 151.4}},
    "y": {"field": "y", "type": "quantitative", "scale": {"domain": [-800, 400], "nice": false, "zero": false}, "axis": {"values": [-800, -600, -400, -200, 0, 200, 400], "tickCount": 30, "title": "GAPE Score"}},
    "shape": {"field": "g", "type": "nominal", "scale": {"domain": ["a", "b"], "range": ["M0.85,0A0.85,0.85,0,1,1,-0.85,0A0.85,0.85,0,1,1,0.85,0Z", "M-1.3,-1.3L1.3,1.3M1.3,-1.3L-1.3,1.3"]}, "legend": {"title": null, "labelExpr": "datum.label == 'a' ? 'Testing Family 4' : 'Seuqnces Outside the Family'", "legendX": -2.5, "legendY": 239.5}}
   }}
 ]
}
]
}
